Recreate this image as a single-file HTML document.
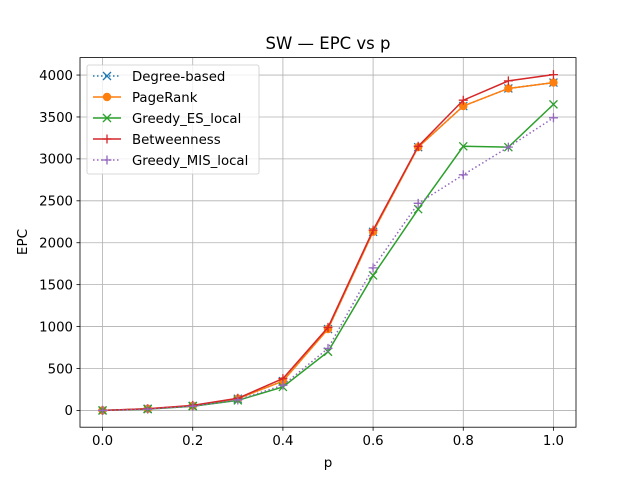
<!DOCTYPE html>
<html><head><meta charset="utf-8"><style>
body{margin:0;background:#fff;}
svg text{font-family:"DejaVu Sans","Liberation Sans",sans-serif;}
</style></head><body>
<svg id="chart" width="640" height="480" xmlns="http://www.w3.org/2000/svg">
<rect width="640" height="480" fill="#fff"/>
<g id="grid"></g>
<g id="series"></g>
<rect x="80" y="57.6" width="496" height="369.6" fill="none" stroke="#000" stroke-width="0.8"/>
<g id="axes"></g>
<text x="328" y="49" text-anchor="middle" font-size="16.5">SW — EPC vs p</text>
<text x="328" y="467" text-anchor="middle" font-size="13.5">p</text>
<text x="27" y="242" text-anchor="middle" font-size="13.5" transform="rotate(-90 27 242)">EPC</text>
<g id="legend"></g>
</svg>
<script>
const xs=[0,0.1,0.2,0.3,0.4,0.5,0.6,0.7,0.8,0.9,1.0];
const degreeVals=[0,20,55,140,350,970,2130,3140,3630,3840,3910];
const pagerankVals=[0,20,55,140,350,970,2130,3140,3630,3840,3910];
const esVals=[0,15,50,120,280,700,1610,2400,3150,3140,3650];
const betweenVals=[0,20,60,145,380,990,2150,3150,3700,3930,4005];
const misVals=[0,15,50,125,300,740,1700,2470,2810,3140,3490];
const xTicks=[0,0.2,0.4,0.6,0.8,1.0];
const xTickLabels=["0.0","0.2","0.4","0.6","0.8","1.0"];
const yTicks=[0,500,1000,1500,2000,2500,3000,3500,4000];
const seriesNames=["Degree-based","PageRank","Greedy_ES_local","Betweenness","Greedy_MIS_local"];

const X0=80,X1=576,Y0=427.2,Y1=57.6,xmin=-0.05,xmax=1.05,ymin=-200,ymax=4208;
const sx=v=>X0+(v-xmin)/(xmax-xmin)*(X1-X0);
const sy=v=>Y0-(v-ymin)/(ymax-ymin)*(Y0-Y1);
const NS="http://www.w3.org/2000/svg";
function mk(t,a,p){const e=document.createElementNS(NS,t);for(const k in a)e.setAttribute(k,a[k]);p.appendChild(e);return e;}
const grid=document.getElementById('grid'),axes=document.getElementById('axes'),ser=document.getElementById('series'),leg=document.getElementById('legend');
xTicks.forEach((t,i)=>{const x=sx(t);
 const g=mk('line',{x1:x,x2:x,y1:Y1,y2:Y0,stroke:'#b0b0b0','stroke-width':0.8},grid);
 
 
 mk('line',{x1:x,x2:x,y1:Y0,y2:Y0+3.5,stroke:'#000','stroke-width':0.8},axes);
 const l=mk('text',{x:x,y:Y0+18,'text-anchor':'middle','font-size':13.3},axes);l.textContent=xTickLabels[i];
 
 });
yTicks.forEach(t=>{const y=sy(t);
 const g=mk('line',{x1:X0,x2:X1,y1:y,y2:y,stroke:'#b0b0b0','stroke-width':0.8},grid);
 
 
 mk('line',{x1:X0-3.5,x2:X0,y1:y,y2:y,stroke:'#000','stroke-width':0.8},axes);
 const l=mk('text',{x:X0-7,y:y+4.8,'text-anchor':'end','font-size':13.3},axes);l.textContent=String(t);
 
 });
function marker(g,type,x,y,c){
 if(type==='o')mk('circle',{cx:x,cy:y,r:4.2,fill:c},g);
 else if(type==='x'){mk('path',{d:`M${x-4},${y-4}L${x+4},${y+4}M${x-4},${y+4}L${x+4},${y-4}`,stroke:c,'stroke-width':1.3},g);}
 else mk('path',{d:`M${x-4.5},${y}L${x+4.5},${y}M${x},${y-4.5}L${x},${y+4.5}`,stroke:c,'stroke-width':1.3},g);}
const defs=[[degreeVals,'#1f77b4','x','1.5,2.5','degree-based'],[pagerankVals,'#ff7f0e','o','','pagerank'],[esVals,'#2ca02c','x','','greedy-es-local'],[betweenVals,'#d62728','+','','betweenness'],[misVals,'#9467bd','+','1.5,2.5','greedy-mis-local']];
defs.forEach((d,i)=>{const g=mk('g',{},ser);
 
 
 const pts=xs.map((x,j)=>sx(x)+','+sy(d[0][j])).join(' ');
 const a={points:pts,fill:'none',stroke:d[1],'stroke-width':1.5};if(d[3])a['stroke-dasharray']=d[3];
 mk('polyline',a,g);
 xs.forEach((x,j)=>marker(g,d[2],sx(x),sy(d[0][j]),d[1]));
 const ly=76+i*21;const lg=mk('g',{},leg);
 
 
 const la={x1:93,x2:121,y1:ly,y2:ly,stroke:d[1],'stroke-width':1.5};if(d[3])la['stroke-dasharray']=d[3];
 mk('line',la,lg);marker(lg,d[2],107,ly,d[1]);
 const t=mk('text',{x:132,y:ly+4.8,'font-size':13.3},lg);t.textContent=seriesNames[i];});
const box=mk('rect',{x:87,y:65,width:172,height:109,rx:2,fill:'#fff','fill-opacity':0.8,stroke:'#ccc','stroke-width':0.8},leg);
leg.insertBefore(box,leg.firstChild);


</script>
</body></html>
